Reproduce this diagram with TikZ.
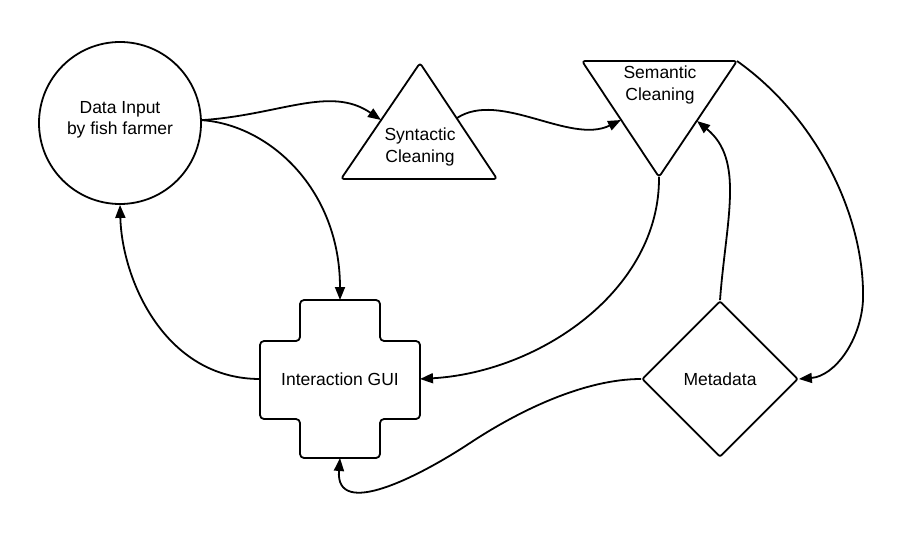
\documentclass[tikz,border=0pt]{standalone}
\usepackage{fontspec}
\setmainfont{Liberation Sans}
\usetikzlibrary{arrows.meta,shapes.geometric,calc}
\begin{document}
\begin{tikzpicture}[x=1pt,y=-1pt,
  shapeline/.style={line width=1.8pt, line join=round, rounded corners=3pt},
  conn/.style={line width=1.8pt, -{Triangle[length=13pt,width=10pt]}},
  lbl/.style={font=\fontsize{17.5}{21.5}\selectfont, align=center, inner sep=0pt}]
\useasboundingbox[fill=white] (0,0) rectangle (904,540);

% Data input circle
\node[circle, draw, line width=1.8pt, minimum size=162pt, inner sep=0pt] (din) at (120,123) {};
\node[lbl] (dinlbl) at (120,120) {Data Input\\by fish farmer};

% Syntactic cleaning triangle
\draw[shapeline] (420,63) -- (497,179) -- (341,179) -- cycle;
\node[lbl] (syn) at (420,147) {Syntactic\\Cleaning};
\coordinate (syn-l) at (381,120);
\coordinate (syn-r) at (457,118);

% Semantic cleaning inverted triangle
\draw[shapeline] (582,61) -- (737,61) -- (659,177) -- cycle;
\node[lbl] (sem) at (660,85) {Semantic\\Cleaning};
\coordinate (sem-l) at (621,120);
\coordinate (sem-r) at (697,121);
\coordinate (sem-b) at (659,177);
\coordinate (sem-tr) at (737,61);

% Interaction GUI cross
\draw[shapeline, rounded corners=4pt] (300,300) -- (380,300) -- (380,341) -- (420,341) -- (420,419) -- (380,419) -- (380,458) -- (300,458) -- (300,419) -- (260,419) -- (260,341) -- (300,341) -- cycle;
\node[lbl, minimum width=160pt, minimum height=158pt, outer sep=0pt] (gui) at (340,379) {Interaction GUI};

% Metadata diamond
\node[diamond, draw, line width=1.8pt, minimum width=156pt, minimum height=156pt, rounded corners=2pt, lbl] (meta) at (720,379) {Metadata};

% Connectors
\draw[conn] (din.2) .. controls (280,115) and (330,85) .. (syn-l);
\draw[conn] (din.2) .. controls (270,125) and (340,190) .. (gui.north);
\draw[conn] (syn-r) .. controls (500,90) and (570,145) .. (sem-l);
\draw[conn] (sem-b) .. controls (660,290) and (540,372) .. (gui.east);
\draw[conn] (meta.north) .. controls (726,220) and (745,160) .. (sem-r);
\draw[conn] (sem-tr) .. controls (820,120) and (865,220) .. (863,300) .. controls (861,340) and (835,376) .. (meta.east);
\draw[conn] (meta.west) .. controls (585,379) and (520,410) .. (470,443) .. controls (420,476) and (335,520) .. (gui.south);
\draw[conn] (gui.west) .. controls (165,379) and (122,280) .. (din.south);
\end{tikzpicture}
\end{document}
